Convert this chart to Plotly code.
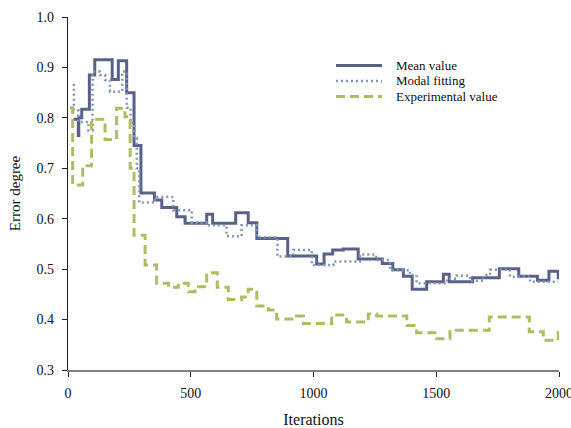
import plotly.graph_objects as go

# Step-change positions (iterations) and values for each series
mean_x = [22, 42, 44, 56, 87, 109, 180, 205, 239, 269, 297, 352, 382, 443, 477, 565, 589,
          683, 734, 769, 895, 1013, 1043, 1078, 1121, 1182, 1280, 1323, 1366, 1402, 1461,
          1529, 1553, 1648, 1757, 1836, 1912, 1959, 1997]
mean_y = [0.797, 0.765, 0.800, 0.817, 0.885, 0.915, 0.876, 0.913, 0.850, 0.745, 0.651,
          0.637, 0.622, 0.604, 0.591, 0.609, 0.591, 0.612, 0.592, 0.561, 0.526, 0.510,
          0.530, 0.538, 0.540, 0.520, 0.511, 0.499, 0.486, 0.460, 0.475, 0.490, 0.475,
          0.483, 0.501, 0.486, 0.478, 0.496, 0.480]

modal_x = [19, 24, 42, 83, 100, 130, 151, 171, 221, 239, 255, 269, 280, 290, 354, 429,
           504, 565, 646, 707, 769, 853, 918, 993, 1081, 1189, 1255, 1312, 1393, 1420,
           1543, 1583, 1637, 1692, 1719, 1800, 1882, 1997]
modal_y = [0.865, 0.815, 0.792, 0.775, 0.892, 0.885, 0.875, 0.852, 0.892, 0.820, 0.790,
           0.760, 0.700, 0.632, 0.643, 0.617, 0.592, 0.587, 0.565, 0.587, 0.563, 0.525,
           0.538, 0.508, 0.515, 0.529, 0.518, 0.498, 0.488, 0.472, 0.481, 0.487, 0.477,
           0.488, 0.499, 0.485, 0.475, 0.475]

exp_x = [8, 19, 60, 96, 151, 198, 232, 253, 269, 314, 361, 409, 449, 490, 517, 565, 608,
         653, 707, 734, 769, 816, 850, 931, 959, 1074, 1135, 1223, 1257, 1380, 1420, 1502,
         1556, 1716, 1879, 1936, 1997]
exp_y = [0.820, 0.667, 0.705, 0.797, 0.757, 0.819, 0.802, 0.700, 0.567, 0.508, 0.472,
         0.464, 0.472, 0.455, 0.465, 0.493, 0.464, 0.440, 0.445, 0.460, 0.427, 0.419,
         0.401, 0.407, 0.392, 0.409, 0.395, 0.411, 0.407, 0.388, 0.374, 0.362, 0.379,
         0.405, 0.376, 0.359, 0.380]

series_names = ["Mean value", "Modal fitting", "Experimental value"]
series_colors = ["#5a6188", "#7f97b4", "#b3bb62"]
series_widths = [3, 2.5, 3]
series_dash = ["solid", "2px,3px", "9px,5px"]

x_ticks = [0, 500, 1000, 1500, 2000]
y_ticks = [0.3, 0.4, 0.5, 0.6, 0.7, 0.8, 0.9, 1.0]

FONT = "Liberation Serif"

fig = go.Figure()
for xs, ys, name, col, w, d in zip([mean_x, modal_x, exp_x], [mean_y, modal_y, exp_y],
                                   series_names, series_colors, series_widths, series_dash):
    fig.add_trace(go.Scatter(x=xs, y=ys, mode="lines", name=name, showlegend=False,
                             line=dict(shape="hv", color=col, width=w, dash=d)))

# Manual legend (compact row spacing as in the reference)
leg_x0, leg_x1, leg_tx = 0.5458, 0.6395, 0.664
leg_rows = [0.8626, 0.8187, 0.7748]
shapes = []
annotations = []
for name, col, w, d, yy in zip(series_names, series_colors, series_widths, series_dash, leg_rows):
    shapes.append(dict(type="line", xref="paper", yref="paper", x0=leg_x0, x1=leg_x1,
                       y0=yy, y1=yy, line=dict(color=col, width=w, dash=d)))
    annotations.append(dict(xref="paper", yref="paper", x=leg_tx, y=yy, text=name,
                            showarrow=False, xanchor="left", yanchor="middle",
                            font=dict(family=FONT, size=13, color="#111")))

fig.update_layout(
    width=571, height=428,
    margin=dict(l=68, r=12, t=17, b=58),
    paper_bgcolor="white", plot_bgcolor="white",
    font=dict(family=FONT, size=14, color="#111"),
    showlegend=False,
    shapes=shapes,
    annotations=annotations,
)
fig.update_xaxes(range=[0, 2000], tickvals=x_ticks, ticktext=[str(v) for v in x_ticks],
                 showgrid=False, zeroline=False, showline=True, linecolor="#808080",
                 linewidth=1.5, ticks="outside", ticklen=5, tickcolor="#222",
                 ticklabelstandoff=4, ticklabeloverflow="allow", automargin=False,
                 tickfont=dict(family=FONT, size=14, color="#111"),
                 title=dict(text="Iterations", font=dict(family=FONT, size=16), standoff=19))
fig.update_yaxes(range=[0.3, 1.0], tickvals=y_ticks,
                 ticktext=[f"{v:.1f}" for v in y_ticks],
                 showgrid=False, zeroline=False, showline=True, linecolor="#222",
                 linewidth=1.2, ticks="outside", ticklen=5, tickcolor="#222",
                 ticklabelstandoff=5, automargin=False,
                 tickfont=dict(family=FONT, size=14, color="#111"),
                 title=dict(text="Error degree", font=dict(family=FONT, size=15), standoff=12))

fig.write_html("out.html")
